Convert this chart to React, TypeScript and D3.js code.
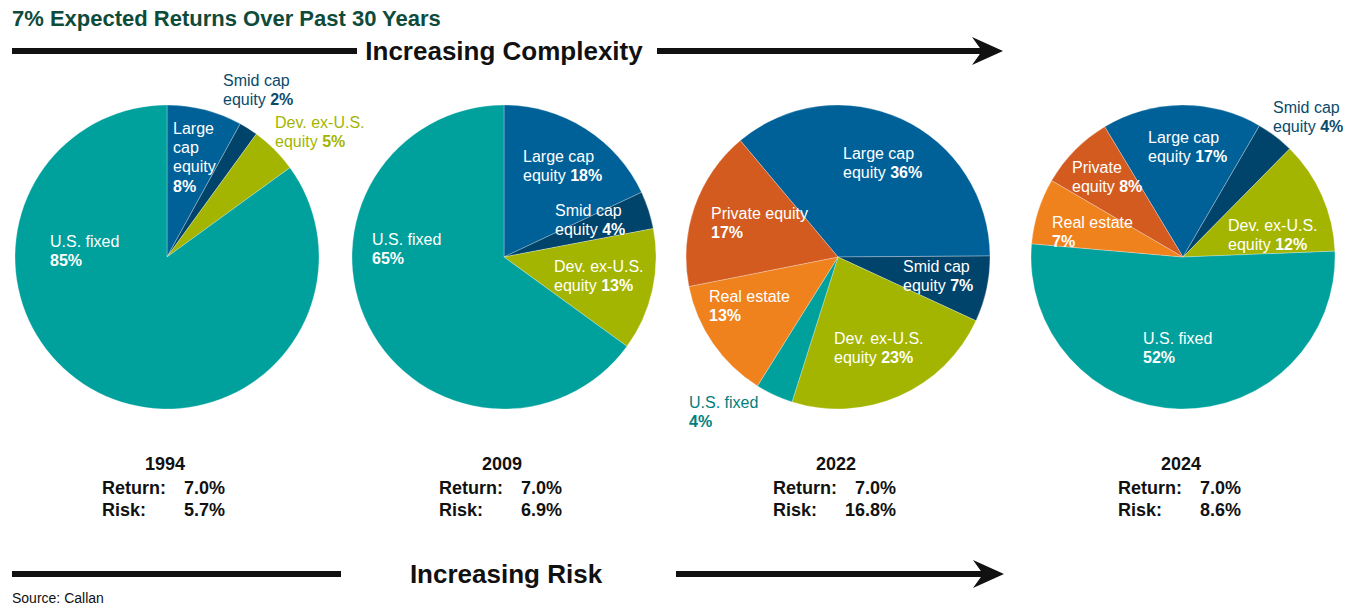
import React from "react";
import * as d3 from "d3";

const categories = [
  "Large cap equity",
  "Smid cap equity",
  "Dev. ex-U.S. equity",
  "U.S. fixed",
  "Real estate",
  "Private equity",
];
const years = ["1994", "2009", "2022", "2024"];
const values1994 = [8, 2, 5, 85, 0, 0];
const values2009 = [18, 4, 13, 65, 0, 0];
const values2022 = [36, 7, 23, 4, 13, 17];
const values2024 = [17, 4, 12, 52, 7, 8];
const returns = ["7.0%", "7.0%", "7.0%", "7.0%"];
const risks = ["5.7%", "6.9%", "16.8%", "8.6%"];

const allValues = [values1994, values2009, values2022, values2024];

// layout
const W = 1358,
  H = 609;
const centersX = [167, 504, 838, 1183];
const cy = 257;
const radius = 152;
const startDeg = [0, 0, -40, -31];
const FONT = "'Liberation Sans', Arial, Helvetica, sans-serif";
const LINE = 19.3;

const fillColors = ["#006199", "#00436B", "#A3B500", "#00A19D", "#F0821E", "#D35B1F"];
const outsideColors = ["#006199", "#0B4A6B", "#A3B500", "#00807C", "#F0821E", "#D35B1F"];

type Label = { cat: number; x: number; y: number; lines: string[]; pctOwnLine: boolean; outside?: boolean };

// label placements (absolute x, first line centre y)
const labelLayout: Label[][] = [
  [
    { cat: 0, x: 173, y: 128, lines: ["Large", "cap", "equity"], pctOwnLine: true },
    { cat: 1, x: 223, y: 80, lines: ["Smid cap", "equity"], pctOwnLine: false, outside: true },
    { cat: 2, x: 275, y: 122, lines: ["Dev. ex-U.S.", "equity"], pctOwnLine: false, outside: true },
    { cat: 3, x: 50, y: 241, lines: ["U.S. fixed"], pctOwnLine: true },
  ],
  [
    { cat: 0, x: 523, y: 156, lines: ["Large cap", "equity"], pctOwnLine: false },
    { cat: 1, x: 555, y: 210, lines: ["Smid cap", "equity"], pctOwnLine: false },
    { cat: 2, x: 554, y: 266, lines: ["Dev. ex-U.S.", "equity"], pctOwnLine: false },
    { cat: 3, x: 372, y: 239, lines: ["U.S. fixed"], pctOwnLine: true },
  ],
  [
    { cat: 0, x: 843, y: 153, lines: ["Large cap", "equity"], pctOwnLine: false },
    { cat: 5, x: 711, y: 213, lines: ["Private equity"], pctOwnLine: true },
    { cat: 1, x: 903, y: 266, lines: ["Smid cap", "equity"], pctOwnLine: false },
    { cat: 4, x: 709, y: 296, lines: ["Real estate"], pctOwnLine: true },
    { cat: 2, x: 834, y: 338, lines: ["Dev. ex-U.S.", "equity"], pctOwnLine: false },
    { cat: 3, x: 689, y: 402, lines: ["U.S. fixed"], pctOwnLine: true, outside: true },
  ],
  [
    { cat: 1, x: 1273, y: 107, lines: ["Smid cap", "equity"], pctOwnLine: false, outside: true },
    { cat: 0, x: 1148, y: 137, lines: ["Large cap", "equity"], pctOwnLine: false },
    { cat: 5, x: 1072, y: 167, lines: ["Private", "equity"], pctOwnLine: false },
    { cat: 4, x: 1052, y: 222, lines: ["Real estate"], pctOwnLine: true },
    { cat: 2, x: 1228, y: 225, lines: ["Dev. ex-U.S.", "equity"], pctOwnLine: false },
    { cat: 3, x: 1143, y: 338, lines: ["U.S. fixed"], pctOwnLine: true },
  ],
];

const Arrow = ({ x0, x1, y }: { x0: number; x1: number; y: number }) => (
  <g fill="#111">
    <rect x={x0} y={y - 3} width={x1 - x0 - 20} height={6} />
    <path d={`M${x1},${y} L${x1 - 31},${y - 14} L${x1 - 21},${y} L${x1 - 31},${y + 14} Z`} />
  </g>
);

const PieLabel = ({ l, value }: { l: Label; value: number }) => {
  const color = l.outside ? outsideColors[l.cat] : "#fff";
  const pct = `${value}%`;
  const rows = l.lines.map((t, i) => {
    const last = i === l.lines.length - 1;
    return (
      <text key={i} x={l.x} y={l.y + i * LINE} dy="0.35em">
        {t}
        {last && !l.pctOwnLine ? (
          <tspan fontWeight="bold">{" " + pct}</tspan>
        ) : null}
      </text>
    );
  });
  return (
    <g fill={color} fontFamily={FONT} fontSize={16}>
      {rows}
      {l.pctOwnLine ? (
        <text x={l.x} y={l.y + l.lines.length * LINE} dy="0.35em" fontWeight="bold">
          {pct}
        </text>
      ) : null}
    </g>
  );
};

export default function App() {
  const arc = d3.arc<d3.PieArcDatum<number>>().innerRadius(0).outerRadius(radius);

  return (
    <svg
      width={W}
      height={H}
      style={{ position: "absolute", left: 0, top: 0, background: "#fff" }}
      fontFamily={FONT}
    >
      <text x={12} y={26} fontSize={22} fontWeight="bold" fill="#0E4B3B">
        7% Expected Returns Over Past 30 Years
      </text>

      <Arrow x0={12} x1={1003} y={51} />
      <rect x={357} y={40} width={300} height={22} fill="#fff" />
      <text x={504} y={60} fontSize={26} fontWeight="bold" fill="#111" textAnchor="middle">
        Increasing Complexity
      </text>

      <Arrow x0={12} x1={1004} y={574} />
      <rect x={341} y={563} width={335} height={22} fill="#fff" />
      <text x={506} y={583} fontSize={26} fontWeight="bold" fill="#111" textAnchor="middle">
        Increasing Risk
      </text>

      <text x={12} y={603} fontSize={14} fill="#111">
        Source: Callan
      </text>

      {allValues.map((vals, p) => {
        const start = (startDeg[p] * Math.PI) / 180;
        const pie = d3
          .pie<number>()
          .sort(null)
          .value((d) => d)
          .startAngle(start)
          .endAngle(start + 2 * Math.PI);
        const arcs = pie(vals);
        const cx = centersX[p];
        return (
          <g key={years[p]}>
            <g transform={`translate(${cx},${cy})`}>
              {arcs.map((a, i) =>
                a.data > 0 ? (
                  <path
                    key={i}
                    d={arc(a) || ""}
                    fill={fillColors[i]}
                    stroke="#ffffff"
                    strokeOpacity={0.35}
                    strokeWidth={0.8}
                  />
                ) : null
              )}
            </g>
            {labelLayout[p].map((l, i) => (
              <PieLabel key={i} l={l} value={vals[l.cat]} />
            ))}
            <g fill="#111" fontWeight="bold" fontSize={18}>
              <text x={cx - 2} y={464} dy="0.35em" textAnchor="middle">
                {years[p]}
              </text>
              <text x={cx - 65} y={488} dy="0.35em">
                Return:
              </text>
              <text x={cx + 58} y={488} dy="0.35em" textAnchor="end">
                {returns[p]}
              </text>
              <text x={cx - 65} y={510} dy="0.35em">
                Risk:
              </text>
              <text x={cx + 58} y={510} dy="0.35em" textAnchor="end">
                {risks[p]}
              </text>
            </g>
          </g>
        );
      })}
    </svg>
  );
}
